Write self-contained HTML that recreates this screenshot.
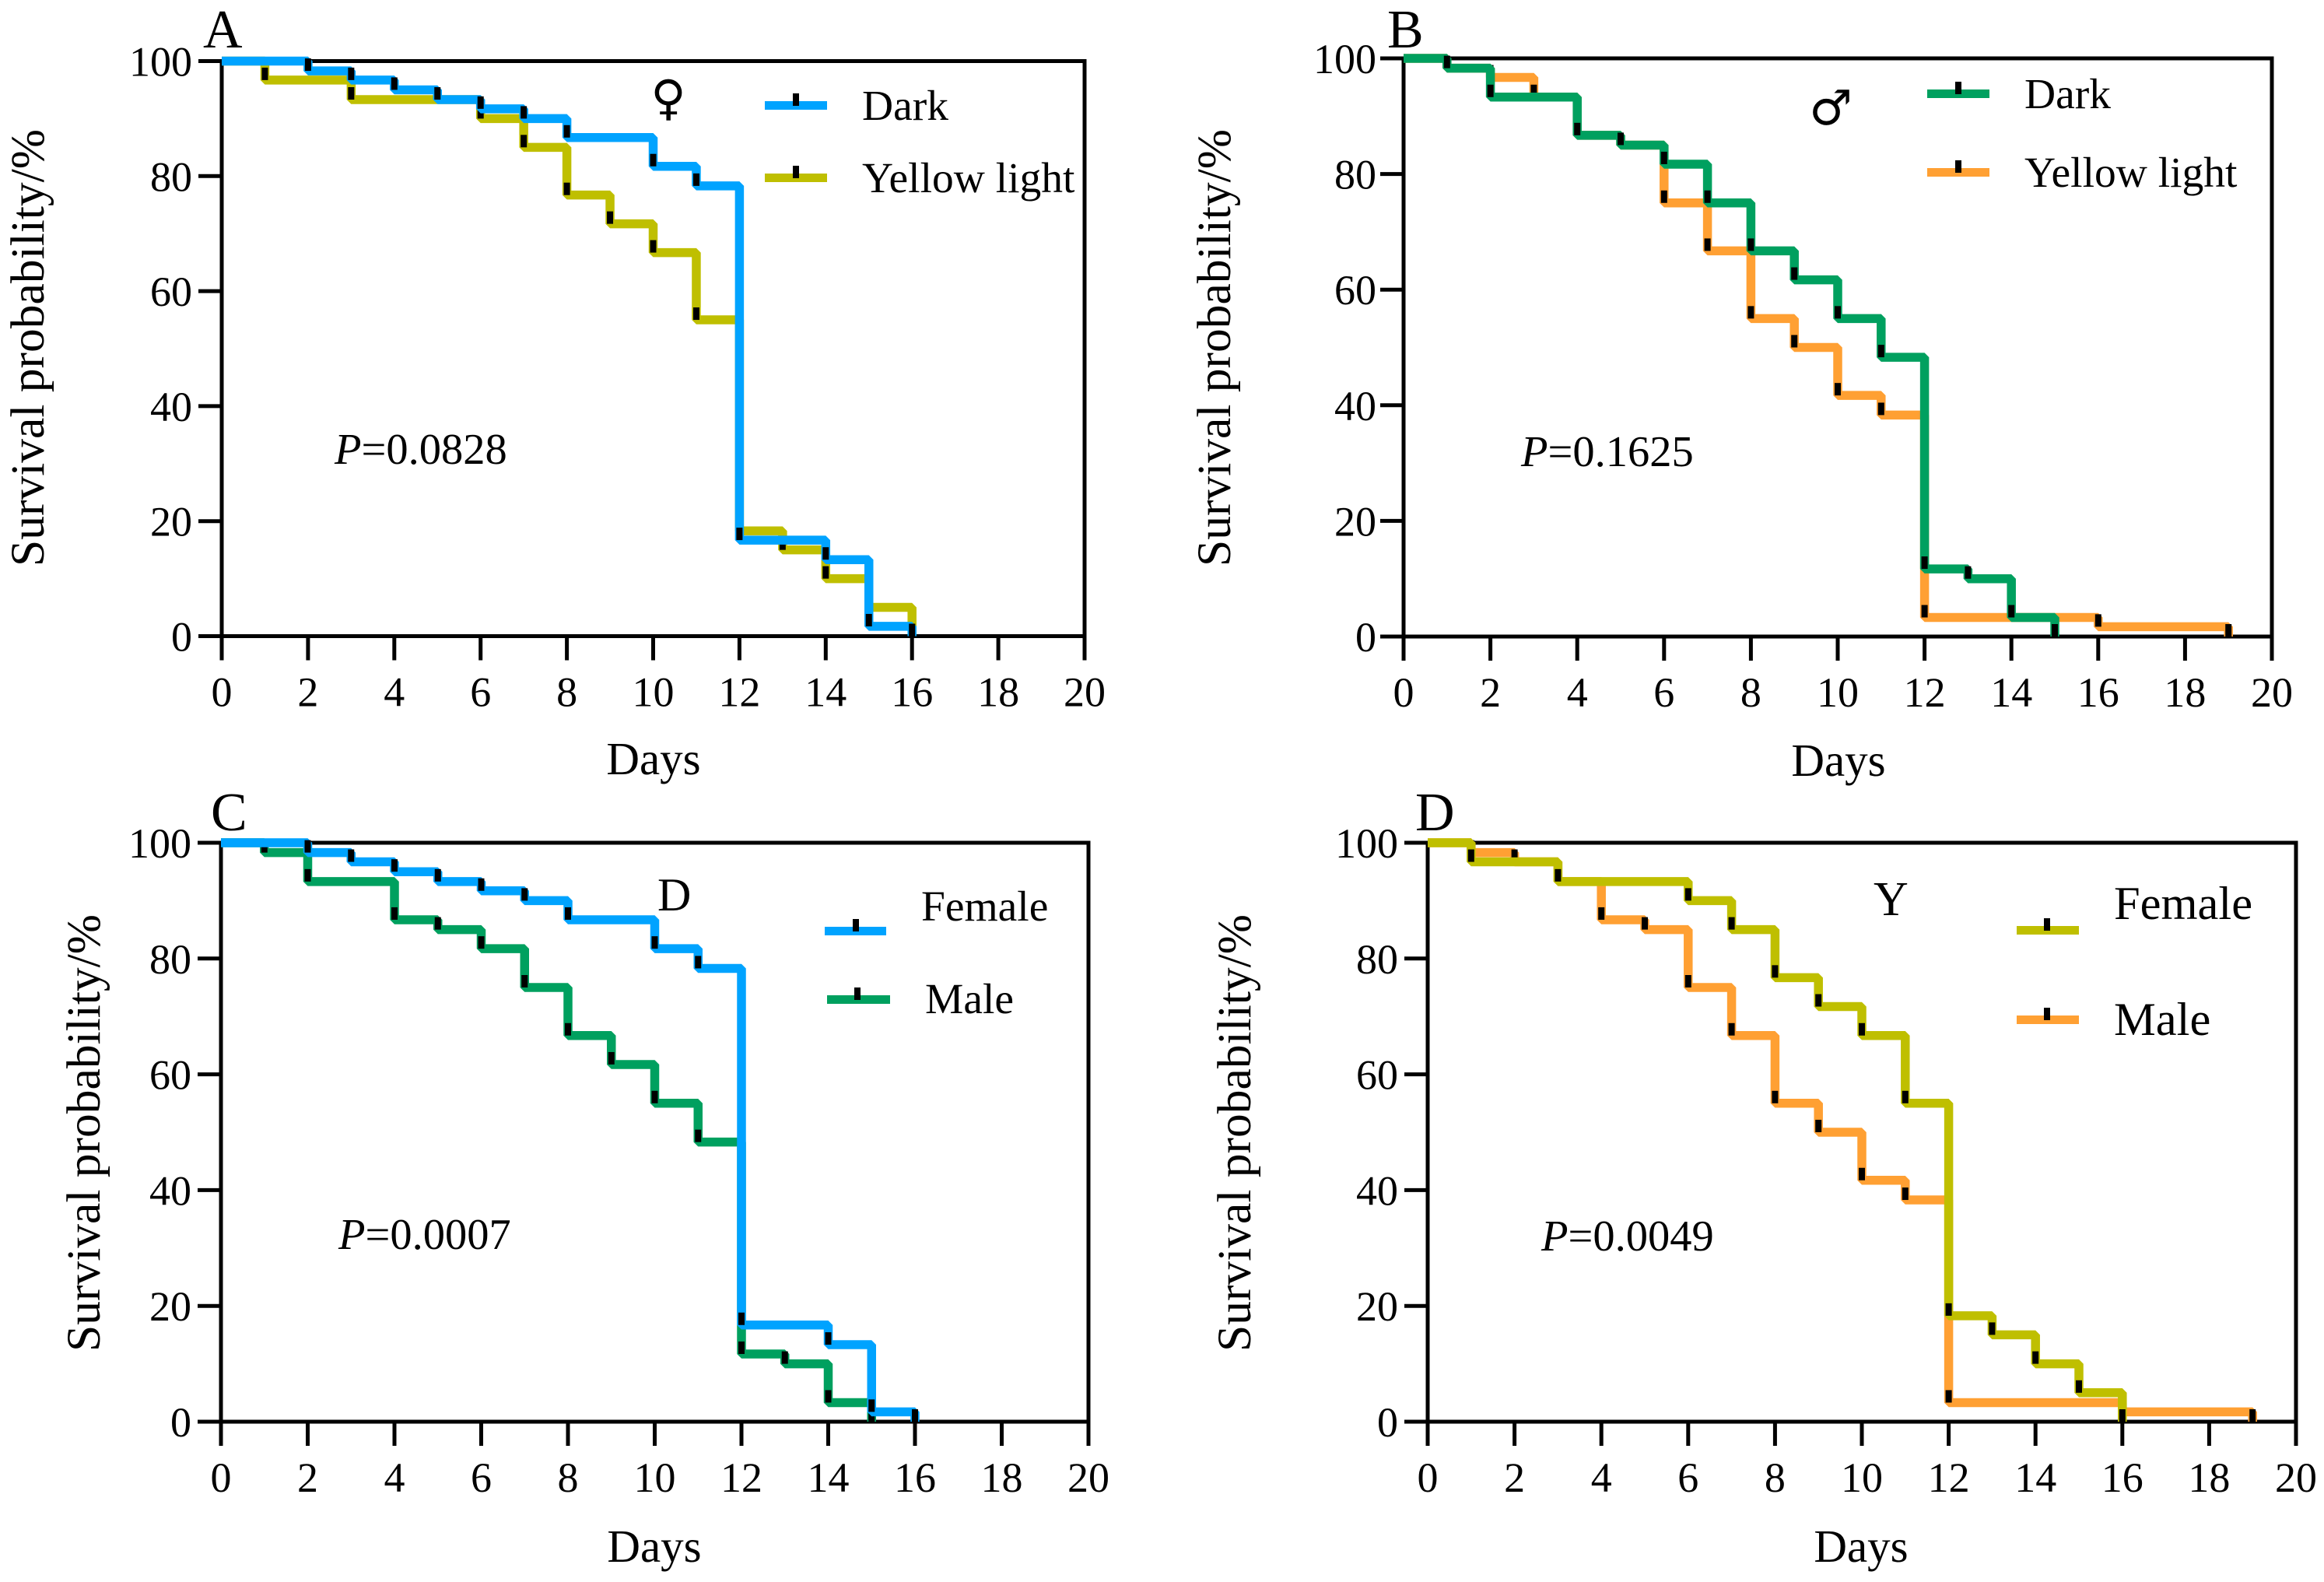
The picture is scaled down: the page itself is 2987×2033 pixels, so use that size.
<!DOCTYPE html>
<html lang="en">
<head>
<meta charset="utf-8">
<title>Survival curves</title>
<style>
html,body{margin:0;padding:0;background:#fff;}
svg{display:block;}
text{font-family:"Liberation Serif","DejaVu Serif",serif;fill:#000;}
.tick-label{font-size:54px;}
.axis-title{font-size:61.5px;}
.x-title{font-size:59px;}
.letter{font-size:70px;}
.pval{font-size:56.5px;}
.leg{font-size:55.5px;}
.sym{font-family:"DejaVu Sans",sans-serif;font-size:62px;}
</style>
</head>
<body>
<svg id="figure" xmlns="http://www.w3.org/2000/svg" width="2987" height="2033" viewBox="0 0 2987 2033">
<rect width="2987" height="2033" fill="#fff"/>

<g id="panel-a">
  <g class="marks"></g>
  <text class="letter" x="261" y="61">A</text>
  <text class="axis-title" transform="translate(56,447) rotate(-90)" text-anchor="middle">Survival probability/%</text>
  <text class="x-title" x="840" y="995" text-anchor="middle">Days</text>
  <text class="pval" x="430" y="596"><tspan font-style="italic">P</tspan>=0.0828</text>
  <text class="sym" x="859" y="147" text-anchor="middle">♀</text>
  <g>
    <rect x="983" y="130" width="80" height="11" fill="#00a3ff"/><rect x="1019" y="120" width="8" height="16" fill="#000"/>
    <text class="leg" x="1108" y="154">Dark</text>
  </g>
  <g>
    <rect x="983" y="223" width="80" height="11" fill="#bfbf00"/><rect x="1019" y="213" width="8" height="16" fill="#000"/>
    <text class="leg" x="1108" y="247">Yellow light</text>
  </g>
</g>

<g id="panel-b">
  <g class="marks"></g>
  <text class="letter" x="1783" y="61">B</text>
  <text class="axis-title" transform="translate(1581,447) rotate(-90)" text-anchor="middle">Survival probability/%</text>
  <text class="x-title" x="2363" y="997" text-anchor="middle">Days</text>
  <text class="pval" x="1955" y="599"><tspan font-style="italic">P</tspan>=0.1625</text>
  <text class="sym" x="2353" y="160" text-anchor="middle">♂</text>
  <g>
    <rect x="2477" y="115" width="80" height="11" fill="#00a05f"/><rect x="2513" y="105" width="8" height="16" fill="#000"/>
    <text class="leg" x="2602" y="139">Dark</text>
  </g>
  <g>
    <rect x="2477" y="216" width="80" height="11" fill="#ffa033"/><rect x="2513" y="206" width="8" height="16" fill="#000"/>
    <text class="leg" x="2602" y="240">Yellow light</text>
  </g>
</g>

<g id="panel-c">
  <g class="marks"></g>
  <text class="letter" x="271" y="1067">C</text>
  <text class="axis-title" transform="translate(128,1456) rotate(-90)" text-anchor="middle">Survival probability/%</text>
  <text class="x-title" x="841" y="2007" text-anchor="middle">Days</text>
  <text class="pval" x="435" y="1605"><tspan font-style="italic">P</tspan>=0.0007</text>
  <text x="845" y="1170" font-size="60">D</text>
  <g>
    <rect x="1060" y="1191" width="79" height="11" fill="#00a3ff"/><rect x="1096" y="1181" width="8" height="16" fill="#000"/>
    <text class="leg" x="1184" y="1183">Female</text>
  </g>
  <g>
    <rect x="1063" y="1279" width="81" height="11" fill="#00a05f"/><rect x="1098" y="1269" width="8" height="16" fill="#000"/>
    <text class="leg" x="1189" y="1302">Male</text>
  </g>
</g>

<g id="panel-d">
  <g class="marks"></g>
  <text class="letter" x="1819" y="1067">D</text>
  <text class="axis-title" transform="translate(1607,1456) rotate(-90)" text-anchor="middle">Survival probability/%</text>
  <text class="x-title" x="2392" y="2007" text-anchor="middle">Days</text>
  <text class="pval" x="1981" y="1607"><tspan font-style="italic">P</tspan>=0.0049</text>
  <text x="2408" y="1176" font-size="62">Y</text>
  <g>
    <rect x="2592" y="1190" width="80" height="11" fill="#bfbf00"/><rect x="2627" y="1180" width="8" height="16" fill="#000"/>
    <text class="leg" style="font-size:60.5px" x="2717" y="1181">Female</text>
  </g>
  <g>
    <rect x="2592" y="1305" width="80" height="11" fill="#ffa033"/><rect x="2627" y="1295" width="8" height="16" fill="#000"/>
    <text class="leg" style="font-size:60.5px" x="2717" y="1330">Male</text>
  </g>
</g>
</svg>

<script>
// Tick labels
var xTickLabels = [0, 2, 4, 6, 8, 10, 12, 14, 16, 18, 20];
var yTickLabels = [0, 20, 40, 60, 80, 100];

// Female, dark
var femaleDarkDays = [0, 2, 3, 4, 5, 6, 7, 8, 10, 11, 12, 14, 15, 16];
var femaleDarkSurvival = [100, 98.3, 96.7, 95, 93.3, 91.7, 90, 86.7, 81.7, 78.3, 16.7, 13.3, 1.7, 0];

// Female, yellow light
var femaleYellowDays = [0, 1, 3, 6, 7, 8, 9, 10, 11, 12, 13, 14, 15, 16];
var femaleYellowSurvival = [100, 96.7, 93.3, 90, 85, 76.7, 71.7, 66.7, 55, 18.3, 15, 10, 5, 0];

// Male, dark
var maleDarkDays = [0, 1, 2, 4, 5, 6, 7, 8, 9, 10, 11, 12, 13, 14, 15];
var maleDarkSurvival = [100, 98.3, 93.3, 86.7, 85, 81.7, 75, 66.7, 61.7, 55, 48.3, 11.7, 10, 3.3, 0];

// Male, yellow light
var maleYellowDays = [0, 1, 2, 3, 4, 5, 6, 7, 8, 9, 10, 11, 12, 16, 19];
var maleYellowSurvival = [100, 98.3, 96.7, 93.3, 86.7, 85, 75, 66.7, 55, 50, 41.7, 38.3, 3.3, 1.7, 0];

var BLUE = '#00a3ff', OLIVE = '#bfbf00', GREEN = '#00a05f', ORANGE = '#ffa033';
var SVGNS = 'http://www.w3.org/2000/svg';

function node(tag, attrs, parent) {
  var el = document.createElementNS(SVGNS, tag);
  for (var k in attrs) { el.setAttribute(k, attrs[k]); }
  parent.appendChild(el);
  return el;
}

function drawPanel(id, box, seriesList) {
  var root = document.querySelector('#' + id + ' .marks');
  var xScale = function (d) { return box.x0 + (d / 20) * (box.x1 - box.x0); };
  var yScale = function (v) { return box.y0 + (v / 100) * (box.y1 - box.y0); };

  var frame = node('path', {
    d: 'M' + xScale(0) + ' ' + yScale(0) + 'V' + yScale(100) + 'H' + xScale(20) + 'V' + yScale(0) + 'Z',
    fill: 'none', stroke: '#000', 'stroke-width': 5
  }, root);
  
  

  xTickLabels.forEach(function (t) {
    var tick = node('line', { x1: xScale(t), x2: xScale(t), y1: yScale(0), y2: yScale(0) + 31, stroke: '#000', 'stroke-width': 5 }, root);
    
    
    var label = node('text', { x: xScale(t), y: yScale(0) + 90, 'text-anchor': 'middle', 'class': 'tick-label' }, root);
    label.textContent = t;
    
    
  });

  yTickLabels.forEach(function (t) {
    var tick = node('line', { x1: xScale(0) - 30, x2: xScale(0), y1: yScale(t), y2: yScale(t), stroke: '#000', 'stroke-width': 5 }, root);
    
    
    var label = node('text', { x: xScale(0) - box.gap, y: yScale(t) + 19, 'text-anchor': 'end', 'class': 'tick-label' }, root);
    label.textContent = t;
    
    
  });

  seriesList.forEach(function (s) {
    var g = node('g', {}, root);
    
    
    var d = 'M' + xScale(s.days[0]) + ' ' + yScale(s.values[0]);
    for (var i = 1; i < s.days.length; i++) {
      d += 'H' + xScale(s.days[i]) + 'V' + yScale(s.values[i]);
    }
    var line = node('path', { d: d, fill: 'none', stroke: s.color, 'stroke-width': 11.5, 'stroke-linejoin': 'bevel' }, g);
    
    
    for (var j = 1; j < s.days.length; j++) {
      var mark = node('rect', { x: xScale(s.days[j]) - 4, y: yScale(s.values[j]) - 16, width: 8, height: 16, fill: '#000' }, g);
      
      
    }
  });
}

drawPanel('panel-a', { x0: 285, x1: 1394, y0: 817.5, y1: 78.5, gap: 38 }, [
  { name: 'yellow-light', color: OLIVE, days: femaleYellowDays, values: femaleYellowSurvival },
  { name: 'dark', color: BLUE, days: femaleDarkDays, values: femaleDarkSurvival }
]);
drawPanel('panel-b', { x0: 1804, x1: 2920, y0: 818, y1: 75, gap: 35 }, [
  { name: 'yellow-light', color: ORANGE, days: maleYellowDays, values: maleYellowSurvival },
  { name: 'dark', color: GREEN, days: maleDarkDays, values: maleDarkSurvival }
]);
drawPanel('panel-c', { x0: 284, x1: 1399, y0: 1827, y1: 1083, gap: 38 }, [
  { name: 'male', color: GREEN, days: maleDarkDays, values: maleDarkSurvival },
  { name: 'female', color: BLUE, days: femaleDarkDays, values: femaleDarkSurvival }
]);
drawPanel('panel-d', { x0: 1835, x1: 2951, y0: 1827, y1: 1083, gap: 38 }, [
  { name: 'male', color: ORANGE, days: maleYellowDays, values: maleYellowSurvival },
  { name: 'female', color: OLIVE, days: femaleYellowDays, values: femaleYellowSurvival }
]);
</script>
</body>
</html>
